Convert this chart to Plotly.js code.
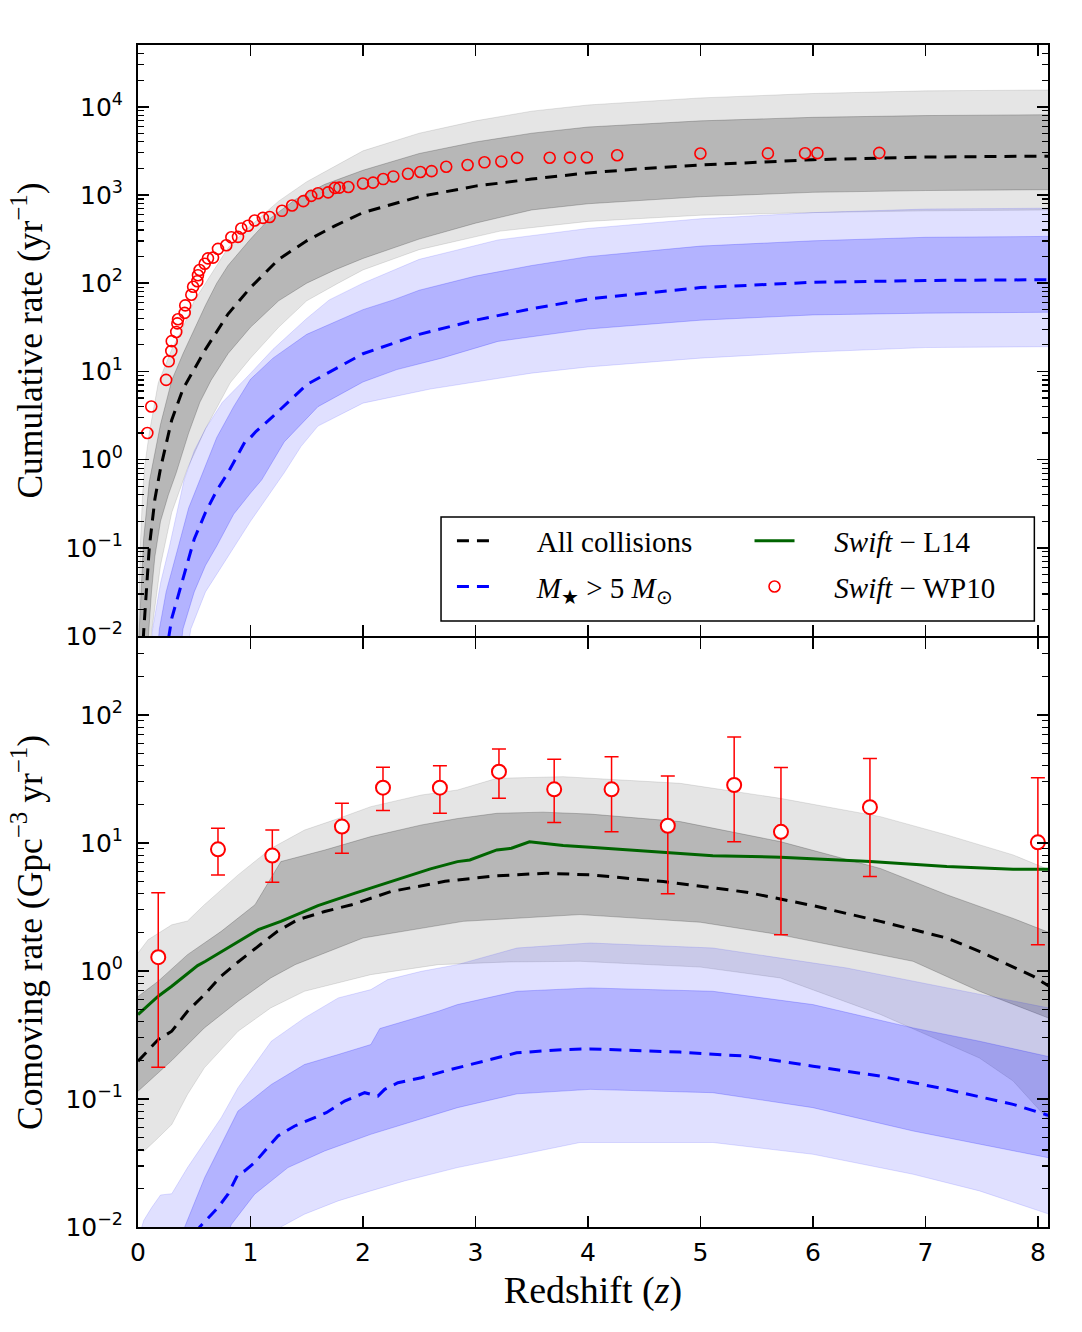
<!DOCTYPE html>
<html><head><meta charset="utf-8">
<script src="https://cdn.plot.ly/plotly-3.0.1.min.js"></script>
<style>html,body{margin:0;padding:0;background:#fff}#chart{width:1082px;height:1332px}</style>
</head><body><div id="chart"></div>
<script>
// ===== TOP PANEL: cumulative rate (log10 of yr^-1) =====
const topMedZ   = [0.03,0.05,0.1,0.15,0.2,0.3,0.4,0.5,0.6,0.8,1.0,1.25,1.5,1.75,2.0,2.5,3.0,3.5,4.0,4.5,5.0,5.5,6.0,7.0,8.1];
const topMedLog = [-2.5,-1.96,-1.0,-0.45,-0.1,0.45,0.8,1.03,1.25,1.65,1.95,2.27,2.48,2.65,2.8,2.98,3.1,3.18,3.25,3.3,3.34,3.37,3.4,3.43,3.44];
const topDarkUpZ   = [0,0.01,0.05,0.1,0.2,0.3,0.4,0.5,0.6,0.7,0.8,1.0,1.16,1.4,1.66,2.0,2.5,3.0,3.5,4.0,5.0,6.0,7.0,8.1];
const topDarkUpLog = [-2.6,-1.96,-0.9,-0.25,0.4,0.9,1.2,1.47,1.75,2.0,2.2,2.5,2.72,2.95,3.12,3.28,3.47,3.6,3.7,3.77,3.84,3.88,3.9,3.91];
const topDarkLoZ   = [0.06,0.09,0.12,0.15,0.2,0.27,0.34,0.45,0.55,0.65,0.8,1.0,1.25,1.5,1.75,2.0,2.5,3.0,3.5,4.0,5.0,6.0,7.0,8.1];
const topDarkLoLog = [-2.6,-1.96,-1.5,-1.1,-0.7,-0.4,-0.15,0.3,0.65,0.9,1.2,1.5,1.8,2.0,2.15,2.28,2.5,2.68,2.83,2.9,2.98,3.03,3.05,3.06];
const topLightUpZ   = [0,0.02,0.04,0.06,0.1,0.18,0.3,0.4,0.5,0.6,0.8,1.0,1.25,1.5,2.0,2.5,3.0,3.5,4.0,5.0,6.0,7.0,8.1];
const topLightUpLog = [-2.2,-1.0,-0.4,-0.07,0.3,0.87,1.25,1.5,1.8,2.0,2.4,2.65,2.93,3.15,3.5,3.7,3.84,3.95,4.02,4.1,4.15,4.18,4.19];
const topLightLoZ   = [0.09,0.12,0.2,0.3,0.44,0.6,0.82,1.0,1.25,1.5,1.78,2.0,2.5,3.22,4.0,5.0,6.0,7.0,8.1];
const topLightLoLog = [-2.6,-1.96,-1.2,-0.6,-0.1,0.35,0.87,1.15,1.5,1.8,2.0,2.15,2.38,2.59,2.7,2.77,2.8,2.82,2.83];

const topBlueMedZ   = [0.2,0.25,0.3,0.4,0.5,0.6,0.7,0.8,0.95,1.0,1.05,1.2,1.5,2.0,2.5,3.0,3.5,4.0,5.0,6.0,7.0,8.1];
const topBlueMedLog = [-2.7,-2.2,-1.8,-1.35,-0.9,-0.6,-0.35,-0.15,0.2,0.25,0.32,0.49,0.85,1.2,1.42,1.58,1.71,1.82,1.95,2.01,2.03,2.04];
const topBlueDarkUpZ   = [0.15,0.19,0.25,0.3,0.36,0.45,0.55,0.7,0.85,1.0,1.2,1.5,2.0,2.27,2.5,3.0,3.5,4.0,5.0,6.0,7.0,8.1];
const topBlueDarkUpLog = [-2.5,-1.92,-1.5,-1.25,-0.98,-0.55,-0.23,0.25,0.6,0.91,1.15,1.42,1.7,1.81,1.92,2.08,2.2,2.3,2.42,2.48,2.52,2.53];
const topBlueDarkLoZ   = [0.35,0.4,0.5,0.6,0.7,0.85,1.0,1.1,1.3,1.6,2.0,2.3,2.7,3.2,4.0,5.0,6.0,7.0,8.1];
const topBlueDarkLoLog = [-2.5,-1.92,-1.5,-1.2,-0.98,-0.62,-0.38,-0.23,0.2,0.6,0.88,1.02,1.15,1.34,1.48,1.58,1.64,1.66,1.67];
const topBlueLightUpZ   = [0.1,0.13,0.2,0.28,0.41,0.5,0.6,0.75,0.95,1.2,1.5,1.7,2.0,2.5,3.2,4.0,5.0,6.0,7.0,8.1];
const topBlueLightUpLog = [-2.5,-1.92,-1.4,-0.98,-0.23,0.1,0.35,0.65,0.91,1.25,1.6,1.81,2.0,2.27,2.49,2.62,2.73,2.8,2.84,2.85];
const topBlueLightLoZ   = [0.4,0.47,0.6,0.86,1.0,1.3,1.45,1.6,2.0,2.6,3.5,4.0,5.0,6.0,7.0,8.1];
const topBlueLightLoLog = [-2.5,-1.92,-1.5,-0.98,-0.7,-0.15,0.15,0.38,0.64,0.8,0.98,1.05,1.15,1.22,1.27,1.28];

// Swift - WP10 cumulative counts (yr^-1)
const topObsZ = [0.083,0.118,0.25,0.273,0.296,0.30,0.34,0.35,0.356,0.415,0.42,0.474,0.49,0.527,0.533,0.548,0.593,0.622,0.667,0.711,0.785,0.83,0.889,0.918,0.978,1.037,1.11,1.17,1.28,1.37,1.47,1.54,1.6,1.69,1.75,1.79,1.87,2.0,2.09,2.18,2.27,2.40,2.51,2.61,2.74,2.93,3.08,3.23,3.37,3.66,3.84,3.99,4.26,5.0,5.6,5.93,6.04,6.59];
const topObsRate = [2,4,8,13,17,22,28,35,39,46,56,74,91,105,123,141,166,191,195,245,269,331,335,417,447,513,550,562,661,759,851,977,1047,1070,1202,1210,1230,1349,1380,1514,1622,1738,1820,1862,2089,2188,2344,2399,2630,2640,2650,2660,2820,2950,2960,2970,2980,3000];

// ===== BOTTOM PANEL: comoving rate (log10 of Gpc^-3 yr^-1) =====
const botMedZ   = [0,0.18,0.3,0.44,0.59,0.74,0.89,1.07,1.24,1.42,1.66,1.9,2.25,2.73,3.19,3.63,4.02,4.67,5.41,6.0,6.6,7.19,7.48,7.96,8.1];
const botMedLog = [-0.705,-0.536,-0.471,-0.315,-0.185,-0.04,0.07,0.19,0.31,0.40,0.464,0.517,0.62,0.70,0.743,0.763,0.75,0.698,0.615,0.51,0.387,0.257,0.153,-0.042,-0.12];
const botDarkUpZ   = [0,0.18,0.44,0.74,1.04,1.2,1.27,1.66,2.07,2.52,2.84,3.19,3.6,4.02,4.82,5.71,6.6,7.19,7.78,8.1];
const botDarkUpLog = [-0.2,-0.08,0.127,0.309,0.517,0.75,0.854,0.944,1.049,1.14,1.19,1.231,1.24,1.225,1.166,1.01,0.80,0.595,0.41,0.30];
const botDarkLoZ   = [0,0.3,0.59,0.89,1.18,1.4,2.0,2.89,3.93,5.0,5.71,6.89,7.48,8.1];
const botDarkLoLog = [-0.94,-0.70,-0.445,-0.237,-0.055,0.05,0.257,0.387,0.44,0.38,0.282,0.075,-0.159,-0.37];
const botLightUpZ   = [0,0.09,0.3,0.44,0.59,0.89,1.185,1.48,1.78,2.07,2.52,2.84,3.19,3.78,4.82,5.71,6.6,7.19,7.78,8.1];
const botLightUpLog = [0.14,0.244,0.36,0.39,0.517,0.75,0.958,1.1,1.19,1.283,1.374,1.413,1.504,1.517,1.465,1.348,1.205,1.062,0.906,0.79];
const botLightLoZ   = [0,0.05,0.148,0.3,0.44,0.59,0.89,1.18,1.48,2.07,2.67,3.3,3.93,5.0,5.71,6.6,7.48,7.78,8.1];
const botLightLoLog = [-1.38,-1.41,-1.33,-1.2,-0.965,-0.757,-0.471,-0.289,-0.159,-0.029,0.049,0.07,0.075,0.03,-0.055,-0.34,-0.68,-0.86,-1.17];

const botBlueMedZ   = [0.45,0.548,0.711,0.8,0.889,0.948,1.037,1.156,1.244,1.393,1.541,1.674,1.837,2.015,2.133,2.193,2.311,2.519,2.785,3.0,3.366,3.78,4.018,4.818,5.41,6.0,6.6,7.19,7.78,8.1];
const botBlueMedLog = [-2.2,-2.0,-1.848,-1.744,-1.588,-1.562,-1.497,-1.38,-1.289,-1.211,-1.159,-1.107,-1.016,-0.951,-0.977,-0.925,-0.873,-0.834,-0.769,-0.72,-0.64,-0.614,-0.609,-0.634,-0.666,-0.744,-0.822,-0.925,-1.042,-1.13];
const botBlueDarkUpZ   = [0.3,0.415,0.593,0.889,1.185,1.48,1.78,2.07,2.15,2.37,2.67,2.84,3.37,4.02,5.11,6.0,6.89,7.48,8.1];
const botBlueDarkUpLog = [-2.4,-2.0,-1.614,-1.094,-0.887,-0.731,-0.653,-0.575,-0.45,-0.393,-0.315,-0.263,-0.159,-0.133,-0.159,-0.263,-0.445,-0.549,-0.67];
const botBlueDarkLoZ   = [0.6,0.83,1.037,1.333,1.66,2.07,2.37,2.84,3.37,4.02,5.11,6.0,6.89,7.48,8.1];
const botBlueDarkLoLog = [-2.5,-1.98,-1.744,-1.536,-1.406,-1.276,-1.198,-1.068,-0.96,-0.925,-0.951,-1.068,-1.25,-1.354,-1.46];
const botBlueLightUpZ   = [0,0.05,0.12,0.2,0.3,0.44,0.74,0.889,1.185,1.48,1.78,2.07,2.22,2.52,2.84,3.37,4.02,5.11,6.3,7.19,8.1];
const botBlueLightUpLog = [-2.1,-1.95,-1.85,-1.75,-1.74,-1.536,-1.146,-0.912,-0.549,-0.367,-0.211,-0.146,-0.068,-0.003,0.049,0.179,0.218,0.179,0.023,-0.133,-0.29];
const botBlueLightLoZ   = [0,1.0,1.27,1.48,1.78,2.07,2.37,2.84,3.93,5.11,6.0,6.89,7.48,8.1];
const botBlueLightLoLog = [-3,-2.3,-2.0,-1.9,-1.796,-1.718,-1.64,-1.536,-1.34,-1.34,-1.432,-1.588,-1.718,-1.90];

// Swift - L14 comoving rate (Gpc^-3 yr^-1)
const botL14Z    = [0,0.18,0.3,0.53,0.6,0.8,1.07,1.27,1.6,1.93,2.25,2.6,2.84,2.95,3.19,3.32,3.48,3.78,4.02,4.7,5.11,5.71,6.51,7.19,7.78,8.1];
const botL14Rate = [0.456,0.634,0.759,1.10,1.19,1.51,2.10,2.44,3.24,4.05,4.99,6.27,7.14,7.36,8.81,9.08,10.2,9.53,9.25,8.45,7.93,7.73,7.14,6.53,6.22,6.22];

// Swift - WP10 binned comoving rate with error bars
const botObsZ    = [0.18,0.711,1.194,1.813,2.178,2.684,3.209,3.70,4.21,4.71,5.30,5.716,6.507,8.0];
const botObsRate = [1.28,8.9,7.96,13.4,27.0,27.0,36.0,26.2,26.2,13.6,28.3,12.2,19.0,10.1];
const botObsHi   = [4.07,13.0,12.6,20.4,39.0,40.0,54.0,44.9,47.0,33.3,67.0,38.8,45.7,32.3];
const botObsLo   = [0.177,5.6,4.93,8.3,17.9,17.0,22.3,14.4,12.2,4.0,10.2,1.92,5.46,1.6];

// tick labels
const topTickVals = [1e-2,1e-1,1,10,100,1000,10000];
const topTickText = ['10<sup>−2</sup>','10<sup>−1</sup>','10<sup>0</sup>','10<sup>1</sup>','10<sup>2</sup>','10<sup>3</sup>','10<sup>4</sup>'];
const botTickVals = [1e-2,1e-1,1,10,100];
const botTickText = ['10<sup>−2</sup>','10<sup>−1</sup>','10<sup>0</sup>','10<sup>1</sup>','10<sup>2</sup>'];
const xTickVals = [0,1,2,3,4,5,6,7,8];

// ===== build =====
const P = a => a.map(v => Math.pow(10, v));
const LG = 'rgba(0,0,0,0.10)', DG = 'rgba(0,0,0,0.20)', LB = 'rgba(0,0,255,0.12)', DB = 'rgba(0,0,255,0.20)';
function band(upZ, upLog, loZ, loLog, col, xa, ya) {
  return {x: upZ.concat(loZ.slice().reverse()), y: P(upLog).concat(P(loLog).reverse()),
    type:'scatter', mode:'lines', fill:'toself', fillcolor: col, line:{color: col, width:1},
    hoverinfo:'skip', showlegend:false, xaxis: xa, yaxis: ya};
}
const DASH = '12px,8px';
const GAP = '\u2003\u2009';
const traces = [
  band(topLightUpZ, topLightUpLog, topLightLoZ, topLightLoLog, LG, 'x', 'y'),
  band(topDarkUpZ, topDarkUpLog, topDarkLoZ, topDarkLoLog, DG, 'x', 'y'),
  band(topBlueLightUpZ, topBlueLightUpLog, topBlueLightLoZ, topBlueLightLoLog, LB, 'x', 'y'),
  band(topBlueDarkUpZ, topBlueDarkUpLog, topBlueDarkLoZ, topBlueDarkLoLog, DB, 'x', 'y'),
  {x: topMedZ, y: P(topMedLog), type:'scatter', mode:'lines', line:{color:'black', width:3, dash:DASH},
   name: GAP + 'All collisions', legend:'legend', legendgroup:'a', legendrank:1, xaxis:'x', yaxis:'y'},
  {x: topBlueMedZ, y: P(topBlueMedLog), type:'scatter', mode:'lines', line:{color:'#0000ff', width:3, dash:DASH},
   name: GAP + '<i>M</i><sub>★</sub> > 5 <i>M</i><sub>⊙</sub>', legend:'legend', legendgroup:'b', legendrank:2, xaxis:'x', yaxis:'y'},
  {x: topObsZ, y: topObsRate, type:'scatter', mode:'markers',
   marker:{symbol:'circle-open', size:11, color:'#ff0000', line:{width:1.6}},
   name: GAP + '<i>Swift</i> − WP10', legend:'legend2', legendgroup:'d', legendrank:2, xaxis:'x', yaxis:'y'},

  band(botLightUpZ, botLightUpLog, botLightLoZ, botLightLoLog, LG, 'x2', 'y2'),
  band(botDarkUpZ, botDarkUpLog, botDarkLoZ, botDarkLoLog, DG, 'x2', 'y2'),
  band(botBlueLightUpZ, botBlueLightUpLog, botBlueLightLoZ, botBlueLightLoLog, LB, 'x2', 'y2'),
  band(botBlueDarkUpZ, botBlueDarkUpLog, botBlueDarkLoZ, botBlueDarkLoLog, DB, 'x2', 'y2'),
  {x: botMedZ, y: P(botMedLog), type:'scatter', mode:'lines', line:{color:'black', width:3, dash:DASH},
   showlegend:false, xaxis:'x2', yaxis:'y2'},
  {x: botBlueMedZ, y: P(botBlueMedLog), type:'scatter', mode:'lines', line:{color:'#0000ff', width:3, dash:DASH},
   showlegend:false, xaxis:'x2', yaxis:'y2'},
  {x: botL14Z, y: botL14Rate, type:'scatter', mode:'lines', line:{color:'#006400', width:3},
   name: GAP + '<i>Swift</i> − L14', legend:'legend2', legendgroup:'c', legendrank:1, xaxis:'x2', yaxis:'y2'},
  {x: botObsZ, y: botObsRate, type:'scatter', mode:'markers',
   marker:{symbol:'circle', size:14, color:'white', line:{color:'#ff0000', width:2}},
   error_y:{type:'data', symmetric:false,
     array: botObsHi.map((h,i)=>h-botObsRate[i]), arrayminus: botObsRate.map((r,i)=>r-botObsLo[i]),
     color:'#ff0000', thickness:1.5, width:7},
   showlegend:false, xaxis:'x2', yaxis:'y2'}
];

const tickFont = {family:'DejaVu Sans', size:25, color:'black'};
const titleFont = {family:'Liberation Serif', size:35.5, color:'black'};
const xCommon = {range:[0,8.09], tickmode:'array', tickvals:xTickVals, ticks:'inside', ticklen:11, tickwidth:1.5,
  tickcolor:'black', mirror:'ticks', showline:true, linewidth:2, linecolor:'black', showgrid:false, zeroline:false,
  tickfont:tickFont, automargin:false};
const yCommon = {type:'log', tickmode:'array', ticks:'inside', ticklen:11, tickwidth:1.5, tickcolor:'black',
  mirror:'ticks', showline:true, linewidth:2, linecolor:'black', showgrid:false, zeroline:false,
  tickfont:tickFont, automargin:false, ticklabelstandoff:8,
  minor:{ticks:'inside', ticklen:6, tickwidth:1.2, tickcolor:'black', dtick:'D1', showgrid:false}};
const legFont = {family:'Liberation Serif', size:29, color:'black'};

const layout = {
  width:1082, height:1332, margin:{l:138, r:34, t:45, b:105},
  paper_bgcolor:'white', plot_bgcolor:'white',
  xaxis: Object.assign({}, xCommon, {anchor:'y', showticklabels:false}),
  xaxis2: Object.assign({}, xCommon, {anchor:'y2', showticklabels:true, ticklabelstandoff:2,
    title:{text:'Redshift (<i>z</i>)', font:{family:'Liberation Serif', size:38, color:'black'}, standoff:10}}),
  yaxis: Object.assign({}, yCommon, {domain:[0.5,1], anchor:'x', range:[-2,4.7], tickvals:topTickVals, ticktext:topTickText,
    title:{text:'Cumulative rate (yr<sup>−1</sup>)', font:titleFont, standoff:12}}),
  yaxis2: Object.assign({}, yCommon, {domain:[0,0.4983], anchor:'x2', range:[-2,2.6], tickvals:botTickVals, ticktext:botTickText,
    title:{text:'Comoving rate (Gpc<sup>−3</sup> yr<sup>−1</sup>)', font:titleFont, standoff:12}}),
  shapes:[{type:'rect', xref:'paper', yref:'paper', x0:0.333, x1:0.985, y0:0.5127, y1:0.6007,
    fillcolor:'white', line:{color:'black', width:1.5}, layer:'above'}],
  legend:{x:0.345, y:0.602, xanchor:'left', yanchor:'top', bgcolor:'rgba(0,0,0,0)', borderwidth:0,
    font:legFont, itemwidth:40, tracegroupgap:5, traceorder:'grouped'},
  legend2:{x:0.672, y:0.602, xanchor:'left', yanchor:'top', bgcolor:'rgba(0,0,0,0)', borderwidth:0,
    font:legFont, itemwidth:40, tracegroupgap:5, traceorder:'grouped'},
  showlegend:true
};
Plotly.newPlot('chart', traces, layout, {staticPlot:true, displayModeBar:false});
</script></body></html>
